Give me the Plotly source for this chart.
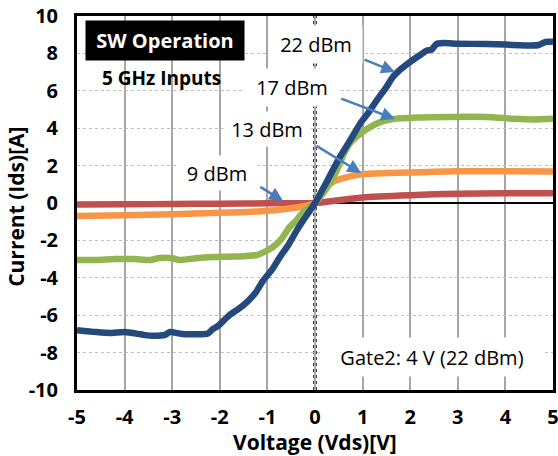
import plotly.graph_objects as go

# ---------------- data ----------------
x_22 = [-5, -4.6, -4.3, -4.0, -3.6, -3.4, -3.15, -3.05, -2.8, -2.5, -2.25, -2.15, -2.05, -1.8, -1.6,
        -1.43, -1.25, -1.09, -0.9, -0.74, -0.55, -0.38, -0.2, 0, 0.25, 0.52, 0.75, 0.95, 1.1, 1.3,
        1.5, 1.64, 1.8, 2.0, 2.2, 2.35, 2.45, 2.55, 2.7, 3.0, 3.6, 4.0, 4.55, 4.7, 4.85, 5.0]
y_22 = [-6.8, -6.9, -6.95, -6.9, -7.05, -7.1, -7.05, -6.9, -7.0, -7.02, -6.98, -6.75, -6.6, -6.0, -5.65,
        -5.3, -4.8, -4.15, -3.55, -2.9, -2.2, -1.45, -0.75, 0.0, 1.15, 2.45, 3.4, 4.25, 4.75, 5.5,
        6.2, 6.75, 7.15, 7.55, 7.9, 8.15, 8.2, 8.5, 8.55, 8.52, 8.5, 8.47, 8.42, 8.45, 8.62, 8.62]

x_17 = [-5, -4.6, -4.2, -3.8, -3.45, -3.3, -3.0, -2.85, -2.5, -2.14, -1.8, -1.5, -1.22, -1.05, -0.88,
        -0.7, -0.53, -0.38, -0.25, -0.1, 0.0, 0.15, 0.3, 0.46, 0.6, 0.735, 0.9, 1.155, 1.4, 1.64,
        2.14, 2.8, 3.6, 4.2, 4.6, 5.0]
y_17 = [-3.05, -3.05, -3.0, -3.0, -3.05, -2.95, -2.95, -3.05, -2.95, -2.89, -2.87, -2.85, -2.78, -2.6, -2.35,
        -1.9, -1.28, -0.9, -0.48, -0.2, 0.0, 0.45, 1.0, 1.76, 2.6, 3.2, 3.6, 4.06, 4.35, 4.49,
        4.57, 4.6, 4.6, 4.5, 4.47, 4.5]

x_13 = [-5, -4, -3, -2, -1.43, -1, -0.46, -0.2, 0, 0.08, 0.17, 0.3, 0.46, 0.7, 1.0, 1.5, 2.0, 2.5, 3.0, 4.0, 5.0]
y_13 = [-0.69, -0.66, -0.6, -0.52, -0.48, -0.42, -0.27, -0.15, 0, 0.35, 0.7, 1.0, 1.23, 1.4, 1.55, 1.6,
        1.63, 1.67, 1.7, 1.7, 1.68]

x_9 = [-5, -4, -3, -2, -1, 0, 0.5, 1, 2, 3, 4, 5]
y_9 = [-0.08, -0.07, -0.05, -0.04, -0.02, 0, 0.15, 0.3, 0.42, 0.5, 0.52, 0.52]

x_ticks = [-5, -4, -3, -2, -1, 0, 1, 2, 3, 4, 5]
x_ticktext = ["-5", "-4", "-3", "-2", "-1", "0", "1", "2", "3", "4", "5"]
y_ticks = [-10, -8, -6, -4, -2, 0, 2, 4, 6, 8, 10]
y_ticktext = ["-10", "-8", "-6", "-4", "-2", "0", "2", "4", "6", "8", "10"]

series = [
    ("9 dBm", x_9, y_9, "#C0504D"),
    ("13 dBm", x_13, y_13, "#F79646"),
    ("17 dBm", x_17, y_17, "#92B552"),
    ("22 dBm", x_22, y_22, "#24497D"),
]

FONT = "Open Sans"

fig = go.Figure()
for name, xs, ys, col in series:
    fig.add_trace(go.Scatter(x=xs, y=ys, mode="lines", name=name,
                             line=dict(color=col, width=6.5, shape="spline", smoothing=0.6)))

# dotted vertical line at Vds = 0 (white underlay hides the grid line there)
fig.add_shape(type="line", xref="x", yref="paper", x0=0, x1=0, y0=0, y1=1,
              line=dict(color="white", width=4), layer="between")
fig.add_shape(type="line", xref="x", yref="paper", x0=0, x1=0, y0=0, y1=1,
              line=dict(color="black", width=3.5, dash="3px,3px"), layer="between")

arrow_col = "#4A7EBB"
# (head x, head y, tail x, tail y)
arrows = [(1.68, 7.01, 1.01, 7.70),
          (1.68, 4.49, 0.52, 5.61),
          (0.97, 1.60, 0.0, 3.10),
          (-0.67, 0.11, -1.18, 0.91)]
for hx, hy, tx, ty in arrows:
    fig.add_annotation(x=hx, y=hy, ax=tx, ay=ty, xref="x", yref="y", axref="x", ayref="y",
                       text="", showarrow=True, arrowhead=2, arrowsize=1.1, arrowwidth=2.5,
                       arrowcolor=arrow_col)

labels = [("22 dBm", 0.03, 8.50, 86, 31),
          ("17 dBm", -0.48, 6.20, 86, 31),
          ("13 dBm", -1.01, 3.96, 80, 28),
          ("9 dBm", -2.06, 1.60, 70, 28),
          ("Gate2: 4 V (22 dBm)", 2.46, -8.24, 214, 32)]
for t, lx, ly, w, h in labels:
    fig.add_annotation(x=lx, y=ly, xref="x", yref="y", text=t, showarrow=False,
                       font=dict(family=FONT, size=20, color="black"),
                       bgcolor="white", width=w, height=h, borderpad=3)

fig.add_annotation(x=-3.15, y=8.69, xref="x", yref="y", text="<b>SW Operation</b>", showarrow=False,
                   font=dict(family=FONT, size=20, color="white"), bgcolor="black",
                   width=152, height=33, borderpad=3)
fig.add_annotation(x=-3.235, y=6.68, xref="x", yref="y", text="<b>5 GHz Inputs</b>", showarrow=False,
                   font=dict(family=FONT, size=19, color="black"))

# axis titles
fig.add_annotation(x=0.5, y=-0.14, xref="paper", yref="paper", text="<b>Voltage (Vds)[V]</b>",
                   showarrow=False, font=dict(family=FONT, size=21, color="black"),
                   xanchor="center", yanchor="middle")
fig.add_annotation(x=-0.128, y=0.49, xref="paper", yref="paper", text="<b>Current (Ids)[A]</b>",
                   showarrow=False, textangle=-90, font=dict(family=FONT, size=21, color="black"),
                   xanchor="center", yanchor="middle")

fig.update_layout(
    width=558, height=456,
    margin=dict(l=77, r=5, t=16, b=66, pad=0),
    paper_bgcolor="white", plot_bgcolor="white",
    showlegend=False,
    font=dict(family=FONT, color="black"),
)
fig.update_xaxes(range=[-5, 5], tickvals=x_ticks, ticktext=["<b>%s</b>" % t for t in x_ticktext],
                 tickfont=dict(family=FONT, size=20, color="black"), automargin=False,
                 ticklabeloverflow="allow",
                 showgrid=True, gridcolor="#A6A6A6", gridwidth=1.5,
                 zeroline=False, showline=True, linecolor="black", linewidth=3, mirror=True,
                 ticks="outside", ticklen=7, tickcolor="rgba(0,0,0,0)")
fig.update_yaxes(range=[-10, 10], tickvals=y_ticks, ticktext=["<b>%s</b>" % t for t in y_ticktext],
                 tickfont=dict(family=FONT, size=20, color="black"), automargin=False,
                 ticklabeloverflow="allow",
                 showgrid=True, gridcolor="#BFBFBF", gridwidth=1, griddash="dot",
                 zeroline=True, zerolinecolor="black", zerolinewidth=1.5,
                 showline=True, linecolor="black", linewidth=3, mirror=True,
                 ticks="outside", ticklen=12, tickcolor="rgba(0,0,0,0)")

fig.write_html("out.html")
